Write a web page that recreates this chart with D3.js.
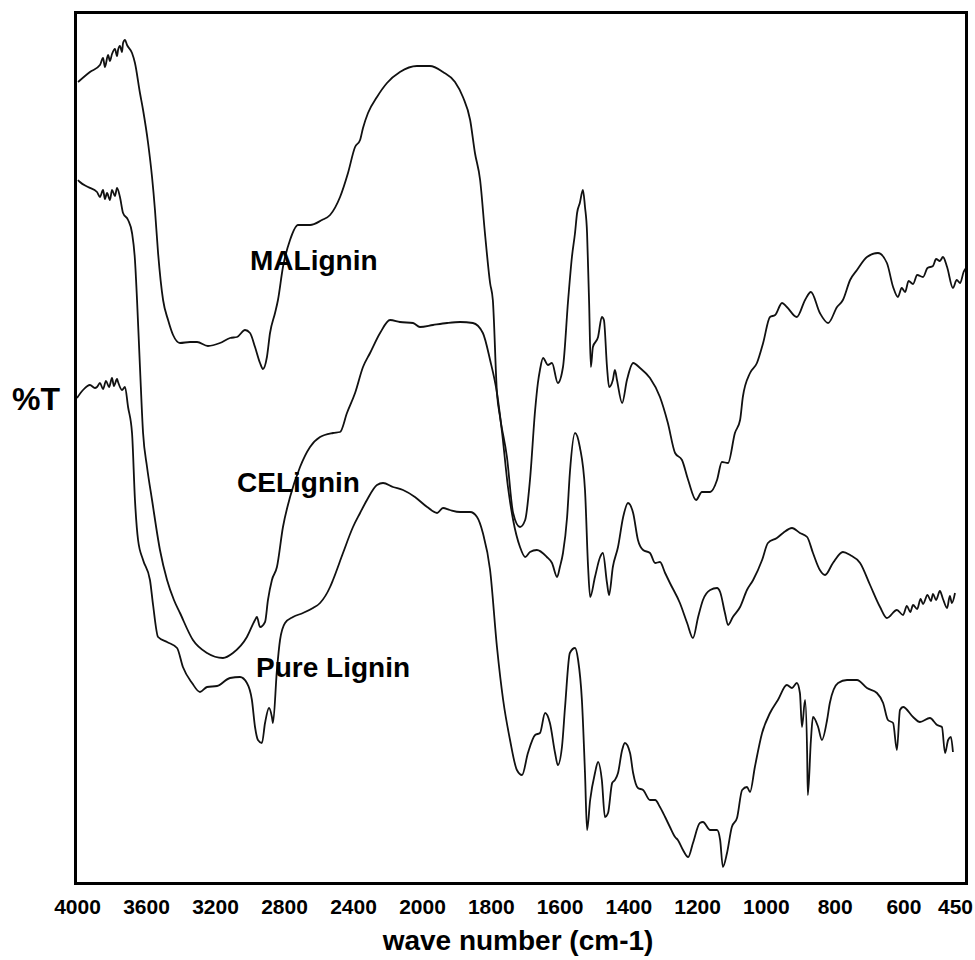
<!DOCTYPE html>
<html>
<head>
<meta charset="utf-8">
<script src="https://cdn.jsdelivr.net/npm/d3@7"></script>
<style>
  html, body { margin: 0; padding: 0; background: #fff; }
  svg { display: block; }
  text { font-family: "Liberation Sans", Arial, Helvetica, sans-serif; font-weight: bold; fill: #000; }
</style>
</head>
<body>
<svg id="chart" width="975" height="960"></svg>
<script>
// FTIR spectra: [wavenumber (cm-1), %T] pairs, curves stacked with vertical offsets
const maLignin = [
  [3994,80.2],[3925,81.2],[3867,81.9],[3849,82.6],[3838,81.7],[3820,82.9],[3809,82.3],[3797,83.0],
  [3780,83.5],[3768,82.8],[3762,83.4],[3751,83.8],[3739,83.2],[3733,84.1],[3722,84.4],[3710,83.9],
  [3681,83.1],[3664,82.1],[3635,79.1],[3617,77.4],[3588,74.1],[3565,70.7],[3548,67.4],[3530,63.1],
  [3501,58.4],[3472,56.4],[3443,54.9],[3403,54.1],[3345,54.2],[3304,54.2],[3241,53.8],[3171,54.1],
  [3113,54.6],[3072,54.7],[3026,55.4],[2997,55.1],[2968,53.7],[2939,52.1],[2922,51.5],[2899,52.7],
  [2881,55.1],[2852,57.1],[2835,58.4],[2806,61.7],[2765,64.4],[2719,65.9],[2649,65.9],[2580,66.4],
  [2533,66.9],[2475,68.7],[2429,71.1],[2388,73.7],[2359,74.4],[2342,75.6],[2313,77.1],[2261,78.7],
  [2203,80.1],[2128,81.2],[2029,81.8],[1977,81.8],[1939,81.2],[1904,80.2],[1881,78.7],[1860,76.4],
  [1846,73.1],[1831,70.4],[1817,65.1],[1802,60.1],[1794,58.4],[1782,49.1],[1773,46.7],[1753,42.7],
  [1735,37.1],[1715,35.7],[1700,36.4],[1686,40.4],[1671,47.4],[1663,50.1],[1657,51.4],[1648,52.6],
  [1634,51.9],[1622,52.1],[1605,50.1],[1590,51.7],[1575,58.4],[1564,62.7],[1555,65.1],[1549,67.1],
  [1541,68.1],[1532,69.4],[1526,67.7],[1520,65.1],[1517,61.7],[1514,58.1],[1509,51.7],[1503,53.7],
  [1488,54.7],[1477,56.7],[1471,56.4],[1462,51.7],[1456,49.7],[1445,50.4],[1439,51.4],[1433,50.4],
  [1418,48.1],[1404,50.4],[1386,52.1],[1366,51.6],[1337,50.6],[1308,48.7],[1285,46.1],[1264,43.1],
  [1244,42.4],[1226,40.4],[1203,38.4],[1186,39.2],[1162,39.2],[1142,40.4],[1128,42.2],[1110,42.1],
  [1090,45.1],[1075,46.4],[1067,48.7],[1046,51.1],[1026,52.1],[1008,54.1],[988,56.7],[973,56.9],
  [953,58.1],[939,57.7],[910,56.7],[886,58.4],[869,59.2],[843,57.1],[819,56.1],[793,57.7],
  [776,58.4],[755,60.4],[735,61.4],[706,62.7],[674,63.1],[648,62.1],[630,59.7],[616,58.7],
  [605,59.6],[595,59.2],[585,60.3],[572,60.0],[560,60.9],[543,60.7],[530,61.6],[514,61.8],
  [505,62.5],[494,62.3],[485,62.7],[473,61.7],[456,59.6],[445,60.4],[435,60.1],[425,61.2],
  [418,61.6]
];

const ceLignin = [
  [3994,70.4],[3983,70.2],[3936,69.7],[3884,69.2],[3867,68.7],[3849,69.4],[3838,68.5],[3826,69.1],
  [3809,68.4],[3797,69.4],[3780,68.8],[3768,69.6],[3751,68.7],[3733,67.1],[3704,66.4],[3681,65.1],
  [3664,62.4],[3652,58.4],[3635,51.7],[3617,45.1],[3594,41.7],[3565,38.4],[3519,33.4],[3478,30.4],
  [3438,28.4],[3403,27.1],[3328,24.4],[3246,23.1],[3154,22.6],[3096,23.1],[3015,24.7],[2968,26.4],
  [2957,26.7],[2939,25.7],[2910,26.2],[2893,28.4],[2870,30.4],[2841,31.7],[2806,35.7],[2765,38.7],
  [2707,41.7],[2649,43.7],[2591,44.7],[2516,45.1],[2475,45.2],[2435,47.1],[2388,49.1],[2342,51.7],
  [2301,53.1],[2243,55.1],[2185,56.4],[2128,56.2],[2052,56.1],[2012,55.7],[1968,55.9],[1927,56.1],
  [1889,56.2],[1852,56.1],[1823,55.1],[1802,52.4],[1782,49.1],[1767,45.1],[1750,39.7],[1735,36.4],
  [1715,33.7],[1700,32.7],[1686,33.2],[1666,33.4],[1637,32.7],[1622,32.1],[1607,30.7],[1599,31.7],
  [1590,33.1],[1578,36.7],[1570,41.1],[1555,45.1],[1541,43.7],[1526,39.4],[1517,31.7],[1511,28.7],
  [1497,30.7],[1482,32.7],[1474,33.1],[1462,30.1],[1456,28.9],[1445,31.7],[1430,33.7],[1415,36.7],
  [1401,38.1],[1386,37.1],[1372,34.4],[1357,33.4],[1337,33.1],[1322,32.1],[1308,32.2],[1293,31.1],
  [1279,30.1],[1250,28.1],[1229,26.1],[1212,24.6],[1197,26.7],[1183,28.4],[1162,29.4],[1142,29.6],
  [1133,29.2],[1119,27.1],[1110,25.9],[1096,26.7],[1075,27.7],[1055,29.4],[1037,30.4],[1011,32.4],
  [994,34.1],[968,34.6],[950,35.1],[924,35.6],[901,35.1],[880,34.7],[863,33.1],[843,31.4],
  [828,30.9],[805,32.1],[776,33.2],[755,32.9],[726,32.1],[697,29.9],[668,27.7],[648,26.6],
  [619,27.4],[601,26.9],[590,27.8],[580,27.2],[572,27.9],[560,27.5],[550,28.5],[543,28.0],
  [530,28.9],[520,28.3],[514,29.0],[505,28.4],[494,29.3],[485,28.5],[473,27.6],[465,28.8],
  [459,28.1],[450,29.1]
];

const pureLignin = [
  [4000,48.6],[3965,49.4],[3925,49.9],[3896,49.6],[3884,49.7],[3867,50.1],[3849,49.5],[3832,50.3],
  [3814,49.7],[3797,50.6],[3786,49.8],[3768,50.5],[3762,50.2],[3739,49.4],[3722,49.7],[3704,47.7],
  [3681,45.1],[3664,38.4],[3646,34.4],[3617,32.4],[3577,30.4],[3559,27.9],[3530,24.7],[3478,24.2],
  [3420,23.6],[3386,21.7],[3333,20.1],[3287,19.2],[3246,19.7],[3188,19.8],[3113,20.6],[3055,20.7],
  [3015,20.1],[2986,18.4],[2968,15.7],[2951,14.4],[2928,14.1],[2910,16.1],[2887,17.6],[2870,16.7],
  [2864,16.1],[2841,21.4],[2823,24.4],[2794,26.1],[2748,26.7],[2690,27.1],[2632,27.6],[2591,28.1],
  [2533,29.7],[2516,30.4],[2458,33.1],[2400,35.7],[2359,37.1],[2319,38.4],[2261,39.9],[2226,40.1],
  [2168,39.7],[2110,39.4],[2041,38.7],[1985,37.7],[1956,37.1],[1939,37.6],[1919,37.4],[1889,37.2],
  [1860,37.2],[1840,36.7],[1823,35.1],[1802,31.4],[1782,23.7],[1764,18.4],[1744,14.4],[1724,11.4],
  [1709,10.9],[1692,13.1],[1671,14.9],[1657,15.1],[1642,17.1],[1628,16.1],[1613,13.1],[1605,11.9],
  [1593,13.7],[1584,17.7],[1570,23.1],[1555,23.6],[1546,22.4],[1535,18.4],[1526,11.1],[1520,5.4],
  [1511,8.4],[1497,11.1],[1488,12.2],[1477,10.4],[1468,6.7],[1459,7.1],[1447,10.1],[1439,10.4],
  [1430,11.1],[1418,13.4],[1410,14.1],[1395,13.1],[1386,11.1],[1372,9.6],[1357,9.4],[1337,8.4],
  [1322,8.4],[1308,7.7],[1293,6.7],[1279,5.7],[1264,4.7],[1256,4.4],[1241,3.4],[1226,2.7],
  [1212,4.1],[1192,6.1],[1183,6.2],[1162,5.4],[1142,5.4],[1133,4.4],[1125,1.7],[1113,3.1],
  [1099,5.7],[1084,6.6],[1069,9.4],[1055,9.7],[1046,9.2],[1032,11.7],[1011,15.1],[988,17.1],
  [965,18.4],[939,19.9],[924,19.6],[910,20.1],[901,19.1],[895,15.7],[886,18.4],[880,13.1],
  [878,8.9],[869,14.4],[863,16.7],[848,15.7],[837,14.4],[822,16.4],[814,18.1],[790,20.1],
  [764,20.4],[735,20.4],[706,19.6],[677,19.1],[659,18.1],[645,16.4],[630,16.1],[619,13.4],
  [610,17.4],[601,17.7],[572,16.7],[552,16.2],[523,16.6],[502,15.9],[488,15.7],[479,13.1],
  [470,14.4],[462,14.7],[456,13.2]
];

const series = [
  { name: "MALignin",    values: maLignin,   label: [2997, 61.4] },
  { name: "CELignin",    values: ceLignin,   label: [3072, 39.2] },
  { name: "Pure Lignin", values: pureLignin, label: [2962, 20.7] }
];

const tickValues = [4000, 3600, 3200, 2800, 2400, 2000, 1800, 1600, 1400, 1200, 1000, 800, 600, 450];

// Layout
const frame = { left: 75.5, top: 12.5, right: 966.5, bottom: 883.5 };

// Two-segment wavenumber axis: 4000-2000 is drawn at half the density of 2000-450
const x = d3.scaleLinear().domain([4000, 2000, 450]).range([77, 422, 955]);
const y = d3.scaleLinear().domain([0, 87.1]).range([884, 13]);

const svg = d3.select("#chart");

// Bottom axis: labels only, no tick marks or domain line
const xAxis = d3.axisBottom(x)
  .tickValues(tickValues)
  .tickFormat(d3.format("d"))
  .tickSize(0)
  .tickPadding(16);

const gx = svg.append("g")
  .attr("transform", `translate(0,${frame.bottom})`)
  .call(xAxis);
gx.select(".domain").remove();
gx.selectAll("text")
  .style("font-family", '"Liberation Sans", Arial, sans-serif')
  .style("font-weight", "bold")
  .style("font-size", "21px")
  .attr("fill", "#000");

// Spectra (pixel x increases along each series, so a monotone-x curve applies)
const line = d3.line()
  .x(d => x(d[0]))
  .y(d => y(d[1]))
  .curve(d3.curveMonotoneX);

svg.append("g")
  .selectAll("path")
  .data(series)
  .join("path")
  .attr("d", d => line(d.values))
  .attr("fill", "none")
  .attr("stroke", "#111")
  .attr("stroke-width", 1.8)
  .attr("stroke-linejoin", "round");

// Curve labels
svg.append("g")
  .selectAll("text")
  .data(series)
  .join("text")
  .attr("x", d => x(d.label[0]))
  .attr("y", d => y(d.label[1]))
  .style("font-size", "28px")
  .text(d => d.name);

// Plot frame
svg.append("rect")
  .attr("x", frame.left)
  .attr("y", frame.top)
  .attr("width", frame.right - frame.left)
  .attr("height", frame.bottom - frame.top)
  .attr("fill", "none")
  .attr("stroke", "#000")
  .attr("stroke-width", 3);

// Axis titles
svg.append("text")
  .attr("x", 12)
  .attr("y", 410)
  .style("font-size", "32px")
  .text("%T");

svg.append("text")
  .attr("x", 518)
  .attr("y", 950)
  .attr("text-anchor", "middle")
  .style("font-size", "28px")
  .text("wave number (cm-1)");
</script>
</body>
</html>
